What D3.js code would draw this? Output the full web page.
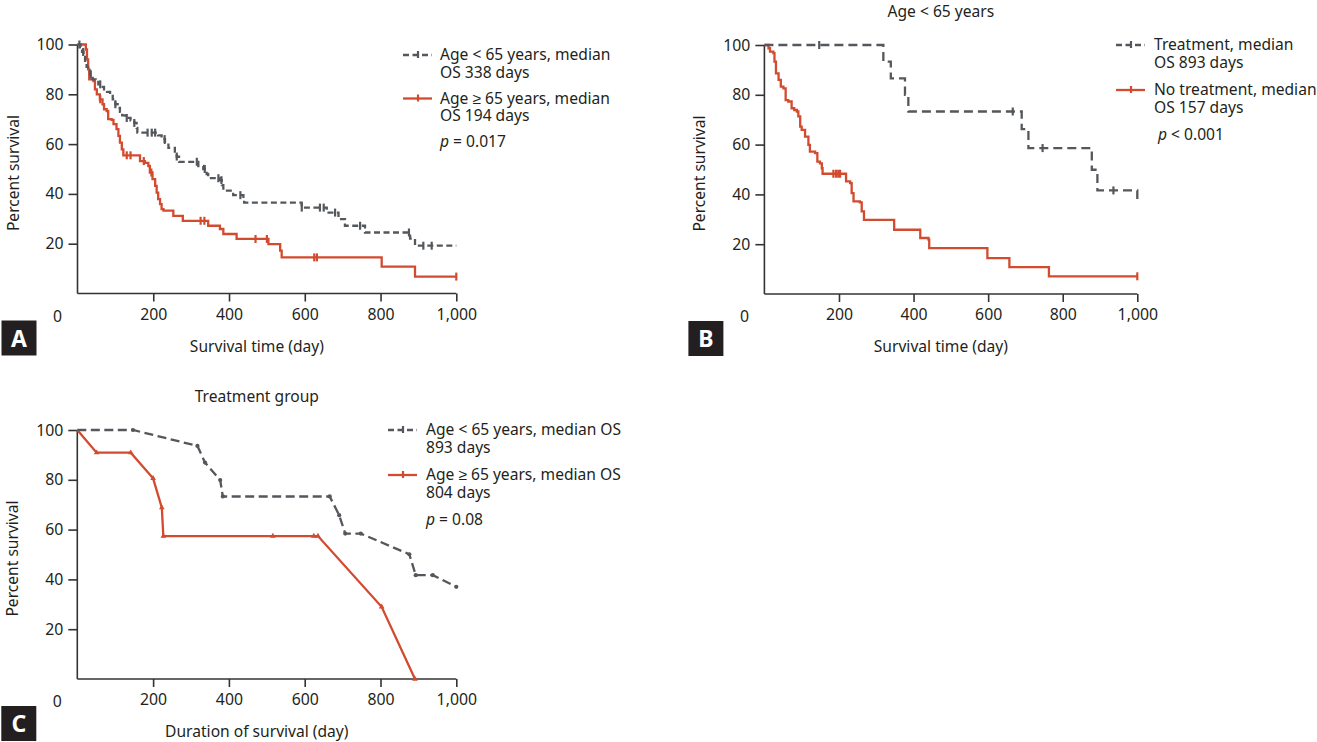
<!DOCTYPE html>
<html><head><meta charset="utf-8">
<script src="https://cdn.jsdelivr.net/npm/d3@7"></script>
<style>
body{margin:0;background:#fff;}
svg{display:block;}
text{font-family:"Noto Sans",sans-serif;fill:#231f20;}
</style></head>
<body>
<svg id="c" width="1317" height="742"></svg>
<script>
// ---------- DATA ----------
const xTicks = [200, 400, 600, 800, 1000];
const yTicks = [20, 40, 60, 80, 100];

// Panel A: Kaplan-Meier steps [day, percent]
const aYoungSteps = [[0,100],[8,99],[12,97],[16,95],[20,93],[24,91],[28,89.5],[33,88],[40,86],[48,85],[55,84],[62,83],[70,82],[78,81],[86,80],[93,78],[100,76],[106,74.5],[112,73],[118,71.5],[126,70.5],[140,69.5],[150,68.5],[156,66.5],[158,64.6],[213,63.5],[222,62],[231,60.5],[240,58.5],[257,57],[262,55],[268,52.9],[319,51.2],[332,50],[341,48],[345,46.3],[376,45.5],[381,43.5],[385,41.3],[411,39.5],[438,37.5],[440,36.5],[592,34.5],[658,32.5],[689,29.9],[706,27.2],[759,24.5],[878,22],[891,19.2],[1000,19.2]];
const aYoungCensor = [5,15,35,60,100,130,150,185,196,205,230,262,315,336,372,380,430,592,640,650,680,746,875,913,935];
const aOldSteps = [[0,100],[22,98],[25,94],[28,90],[31,86],[42,85.3],[46,82],[51,80],[59,78],[66,76],[70,74],[77,73.3],[81,70],[90,69.7],[95,68],[103,66],[108,63.3],[112,60.6],[117,57.9],[121,55.5],[165,53.2],[178,52.5],[187,51.2],[191,48.6],[198,45.9],[205,43.2],[209,40.5],[213,37.9],[218,35.9],[222,33.9],[227,33.3],[253,31.2],[278,29.2],[345,27.2],[376,25.9],[385,23.9],[420,21.9],[504,19.8],[535,17.2],[539,14.5],[803,10.8],[891,6.8],[1000,6.8]];
const aOldCensor = [60,130,140,175,195,325,335,470,500,625,632,1000];

// Panel B
const bTreatSteps = [[0,100],[319,93.3],[339,86.6],[377,80],[386,73.3],[690,66.2],[708,58.6],[878,49.9],[893,41.6],[1000,37]];
const bTreatCensor = [147,666,746,936];
const bNoTreatSteps = [[0,100],[11,98.7],[15,97.3],[24,96.7],[27,93.3],[31,88.6],[38,86],[44,83.3],[51,82.6],[57,77.9],[64,77.3],[73,74.6],[80,73.9],[87,73.3],[91,71.3],[96,67.2],[100,65.9],[109,63.2],[118,59.9],[122,57.2],[136,56.6],[142,53.2],[149,52.5],[154,50.5],[156,48.3],[219,45.2],[230,44.5],[234,40.5],[239,37.2],[256,36.8],[261,33.2],[267,29.8],[348,25.8],[418,22.5],[440,21.8],[442,18.4],[598,14.4],[657,10.8],[763,7.1],[1000,7.1]];
const bNoTreatCensor = [185,192,198,203,1000];

// Panel C: connected points [day, percent]
const cYoungPts = [[0,100],[147,100],[317,93.6],[337,86.9],[377,79.9],[384,73.3],[666,73.3],[691,65.8],[707,58.4],[748,58.4],[876,50.1],[893,41.7],[938,41.7],[1000,37]];
const cOldPts = [[0,100],[51,90.9],[141,90.9],[200,80.6],[223,68.8],[227,57.4],[516,57.4],[624,57.4],[635,57.4],[803,29],[891,0]];

// ---------- DRAW ----------
const GRAY = "#54585c", RED = "#d24b2f", AX = "#333";
const FS = "15.6px";
const svg = d3.select("#c");

function panel(o){
  const x = d3.scaleLinear().domain([0,1000]).range([o.x0, o.x1]);
  const y = d3.scaleLinear().domain([0,100]).range([o.y0, o.y1]);
  const g = svg.append("g");
  // axes
  const xa = g.append("g").attr("transform",`translate(0,${o.y0})`)
    .call(d3.axisBottom(x).tickValues(xTicks).tickSize(8).tickPadding(7).tickFormat(d3.format(",")));
  const ya = g.append("g").attr("transform",`translate(${o.x0},0)`)
    .call(d3.axisLeft(y).tickValues(yTicks).tickSize(9).tickPadding(5));
  [xa, ya].forEach(a=>{
    a.select(".domain").attr("stroke",AX).attr("stroke-width",1.6);
    a.selectAll(".tick line").attr("stroke",AX).attr("stroke-width",1.6);
    a.selectAll(".tick text").attr("fill","#231f20").style("font-size","15.8px").style("font-family","Noto Sans");
  });
  xa.select(".domain").attr("d",`M${o.x0},0H${o.x1}`);
  ya.select(".domain").attr("d",`M0,${o.y0}V${o.y1}`);
  g.append("text").attr("x",o.x0-20).attr("y",o.y0+28).attr("text-anchor","middle").style("font-size","15.8px").text("0");
  // labels
  g.append("text").attr("x",(o.x0+o.x1)/2-10).attr("y",o.y0+58).attr("text-anchor","middle").style("font-size",FS).text(o.xlabel);
  g.append("text").attr("transform",`translate(${o.x0-59},${(o.y0+o.y1)/2+4}) rotate(-90)`).attr("text-anchor","middle").style("font-size",FS).text("Percent survival");
  if(o.title) g.append("text").attr("x",(o.x0+o.x1)/2-10).attr("y",o.y1-28).attr("text-anchor","middle").style("font-size",FS).text(o.title);
  // panel letter
  g.append("rect").attr("x",o.x0-76).attr("y",o.y0+27).attr("width",35).attr("height",35).attr("fill","#231f20");
  g.append("text").attr("x",o.x0-58.5).attr("y",o.y0+53).attr("text-anchor","middle").style("font-size","23px").style("font-weight","bold").style("fill","#fff").text(o.letter);

  const stepLine = d3.line().x(d=>x(d[0])).y(d=>y(d[1])).curve(d3.curveStepAfter);
  const linLine = d3.line().x(d=>x(d[0])).y(d=>y(d[1]));
  const valAt = (steps,t)=>{let v=steps[0][1]; for(const s of steps){ if(s[0]<=t) v=s[1]; } return v;};

  o.series.forEach(s=>{
    g.append("path").datum(s.data).attr("d", s.step?stepLine:linLine)
      .attr("fill","none").attr("stroke",s.color).attr("stroke-width",2.3)
      .attr("stroke-dasharray",s.dash||null);
    if(s.censor){
      g.selectAll(null).data(s.censor).join("line")
        .attr("x1",d=>x(d)).attr("x2",d=>x(d))
        .attr("y1",d=>y(valAt(s.data,d))-4).attr("y2",d=>y(valAt(s.data,d))+4)
        .attr("stroke",s.color).attr("stroke-width",2.2);
    }
    if(s.markers){
      g.selectAll(null).data(s.data.filter((d,i)=>i>0)).join("path")
        .attr("transform",d=>`translate(${x(d[0])},${y(d[1])})`)
        .attr("d",d3.symbol().type(s.markType).size(14))
        .attr("fill",s.color);
    }
  });
  // legend
  const L = o.legend;
  L.items.forEach((it,i)=>{
    const ly = L.y + i*L.gap;
    g.append("line").attr("x1",L.x).attr("x2",L.x+29).attr("y1",ly).attr("y2",ly)
      .attr("stroke",it.color).attr("stroke-width",2.3).attr("stroke-dasharray",it.dash||null);
    g.append("line").attr("x1",L.x+15).attr("x2",L.x+15).attr("y1",ly-4).attr("y2",ly+3)
      .attr("stroke",it.color).attr("stroke-width",2.2);
    const t = g.append("text").attr("y",ly+5).style("font-size",FS);
    it.lines.forEach((s,j)=>{
      t.append("tspan").attr("x",L.x+L.tx).attr("dy", j===0 ? 0 : 17.5).text(s);
    });
  });
  const pt = g.append("text").attr("x",L.x+L.tx+L.px).attr("y",L.y+2*L.gap+5).style("font-size",FS);
  pt.append("tspan").style("font-style","italic").text("p");
  pt.append("tspan").text(L.p);
}

panel({x0:77.5,x1:456.3,y0:293.5,y1:44.5,letter:"A",xlabel:"Survival time (day)",
  series:[
    {data:aOldSteps,step:true,color:RED,censor:aOldCensor},
    {data:aYoungSteps,step:true,color:GRAY,dash:"6,3.5",censor:aYoungCensor}
  ],
  legend:{x:403,y:55,gap:43.5,tx:37,px:0,p:" = 0.017",items:[
    {color:GRAY,dash:"6,3.5",lines:["Age < 65 years, median","OS 338 days"]},
    {color:RED,lines:["Age \u2265 65 years, median","OS 194 days"]}]}
});

panel({x0:764.4,x1:1137.3,y0:294,y1:45,letter:"B",xlabel:"Survival time (day)",title:"Age < 65 years",
  series:[
    {data:bNoTreatSteps,step:true,color:RED,censor:bNoTreatCensor},
    {data:bTreatSteps,step:true,color:GRAY,dash:"9,5",censor:bTreatCensor}
  ],
  legend:{x:1116,y:45,gap:45,tx:38,px:4,p:" < 0.001",items:[
    {color:GRAY,dash:"6,3.5",lines:["Treatment, median","OS 893 days"]},
    {color:RED,lines:["No treatment, median","OS 157 days"]}]}
});

panel({x0:77.3,x1:456.3,y0:679,y1:430,letter:"C",xlabel:"Duration of survival (day)",title:"Treatment group",
  series:[
    {data:cOldPts,step:false,color:RED,markers:true,markType:d3.symbolTriangle},
    {data:cYoungPts,step:false,color:GRAY,dash:"9,4.5",markers:true,markType:d3.symbolCircle}
  ],
  legend:{x:388,y:430,gap:45,tx:38,px:0,p:" = 0.08",items:[
    {color:GRAY,dash:"6,3.5",lines:["Age < 65 years, median OS","893 days"]},
    {color:RED,lines:["Age \u2265 65 years, median OS","804 days"]}]}
});
</script>
</body></html>
